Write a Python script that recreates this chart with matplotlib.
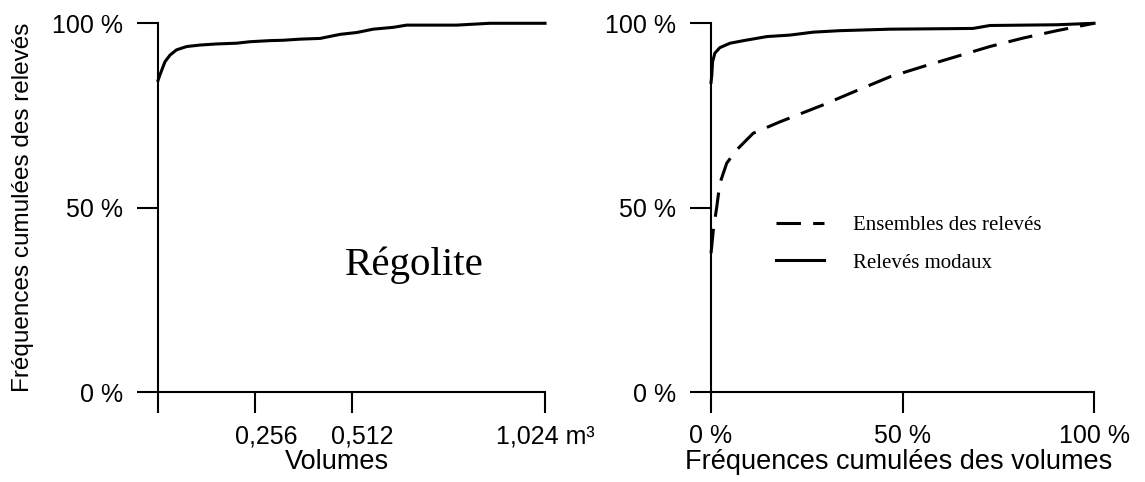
import matplotlib
matplotlib.use("Agg")
import matplotlib.pyplot as plt
from matplotlib.transforms import ScaledTranslation

plt.rcParams['font.family'] = ['Liberation Sans', 'DejaVu Sans']

# Left panel: cumulative frequency of modal records vs volume (m3)
vol_x = [0.0, 0.005, 0.0185, 0.032, 0.049, 0.076, 0.111, 0.155, 0.208, 0.243,
         0.296, 0.331, 0.376, 0.429, 0.482, 0.526, 0.569, 0.622, 0.658, 0.790,
         0.878, 1.024]
vol_y = [84.5, 86.0, 89.6, 91.4, 92.8, 93.7, 94.1, 94.4, 94.6, 95.0,
         95.3, 95.4, 95.7, 95.9, 97.0, 97.5, 98.4, 98.9, 99.5, 99.5,
         100.0, 100.0]
vol_ticks = [0.256, 0.512, 1.024]
vol_ticklabels = ["0,256", "0,512", "1,024 m\u00b3"]

# Right panel: cumulative frequency of records vs cumulative frequency of volumes
modal_x = [0, 0.2, 0.4, 1.0, 2.3, 4.96, 8.5, 14.6, 20.6, 26.7, 33.7, 46.7,
           68.4, 72.8, 90.3, 100]
modal_y = [84.0, 86.0, 89.6, 91.9, 93.4, 94.6, 95.3, 96.4, 96.8, 97.6, 98.0, 98.4,
           98.6, 99.4, 99.6, 100]
all_x = [0, 0.6, 1.5, 2.3, 4.1, 6.7, 11.0, 18.0, 29.3, 36.3, 46.7,
         55.4, 64.1, 72.8, 81.5, 90.3, 100]
all_y = [37.7, 44.0, 50.3, 56.6, 62.1, 65.7, 70.2, 73.3, 77.9, 81.0, 85.5,
         88.3, 91.0, 93.7, 96.0, 98.0, 100]

pct_ticks = [0, 50, 100]
pct_labels = ["0 %", "50 %", "100 %"]
label_all = "Ensembles des relev\u00e9s"
label_modal = "Relev\u00e9s modaux"

fig = plt.figure(figsize=(11.45, 4.82), dpi=100)
axL = fig.add_axes([0.1380, 0.1861, 0.3380, 0.7656])
axR = fig.add_axes([0.6210, 0.1861, 0.3345, 0.7656])

TICK_FS = 18
for ax in (axL, axR):
    for s in ('top', 'right'):
        ax.spines[s].set_visible(False)
    for s in ('left', 'bottom'):
        ax.spines[s].set_linewidth(1.5)
    ax.set_ylim(0, 100)
    ax.set_yticks(pct_ticks)
    ax.set_yticklabels(pct_labels)
    ax.tick_params(axis='both', direction='out', length=15, width=1.5,
                   labelsize=TICK_FS, pad=10)
    ax.tick_params(axis='x', pad=8)

# Left
axL.plot(vol_x, vol_y, color='black', lw=2.2, clip_on=False,
         solid_joinstyle='round')
axL.set_xlim(0, 1.024)
axL.set_xticks([0] + vol_ticks)
axL.set_xticklabels([""] + vol_ticklabels)
off = ScaledTranslation(0.11, 0, fig.dpi_scale_trans)
for lab in axL.get_xticklabels()[1:3]:
    lab.set_transform(lab.get_transform() + off)
axL.set_xlabel("Volumes", fontsize=19.5)
axL.xaxis.set_label_coords(0.462, -0.155)
axL.set_ylabel("Fr\u00e9quences cumul\u00e9es des relev\u00e9s", fontsize=17.5)
axL.yaxis.set_label_coords(-0.32, 0.5)
axL.text(0.661, 0.345, "R\u00e9golite", transform=axL.transAxes,
         ha='center', va='center', fontsize=29.5, family='Liberation Serif')

# Right
l1, = axR.plot(all_x, all_y, color='black', lw=2.2, dashes=(8, 4),
               clip_on=False, label=label_all)
l2, = axR.plot(modal_x, modal_y, color='black', lw=2.2, clip_on=False,
               label=label_modal, solid_joinstyle='round')
axR.set_xlim(0, 100)
axR.set_xticks(pct_ticks)
axR.set_xticklabels(pct_labels)
axR.set_xlabel("Fr\u00e9quences cumul\u00e9es des volumes", fontsize=19.5)
axR.xaxis.set_label_coords(0.49, -0.155)
leg = axR.legend(handles=[l1, l2], loc='upper left',
                 bbox_to_anchor=(0.170, 0.478), frameon=False,
                 prop={'family': 'Liberation Serif', 'size': 15},
                 handlelength=2.3, handletextpad=1.4, labelspacing=0.85,
                 borderpad=0, borderaxespad=0)

fig.savefig("out.png", dpi=100)
